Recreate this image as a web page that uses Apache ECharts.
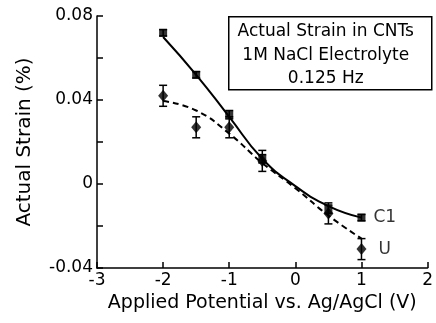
<!DOCTYPE html>
<html>
<head>
<meta charset="utf-8">
<script src="https://cdn.jsdelivr.net/npm/echarts@6/dist/echarts.min.js"></script>
<style>
  html, body { margin: 0; padding: 0; background: #fff; }
  #chart { width: 436px; height: 323px; }
</style>
</head>
<body>
<div id="chart"></div>
<script>
// potential (V)
var potentials = [-2, -1.5, -1, -0.5, 0.5, 1];
// C1 measured strain (%) and error
var c1Values = [0.072, 0.052, 0.033, 0.012, -0.012, -0.016];
var c1Errors = [0.0015, 0.0015, 0.002, 0.002, 0.002, 0.0015];
// U measured strain (%) and error
var uValues = [0.042, 0.027, 0.027, 0.011, -0.014, -0.031];
var uErrors = [0.005, 0.005, 0.005, 0.005, 0.005, 0.005];
// fitted curves as drawn
var fitX = [-2, -1.5, -1, -0.5, 0, 0.5, 1];
var c1Fit = [0.070, 0.052, 0.032, 0.012, -0.001, -0.0105, -0.016];
var uFit = [0.0395, 0.035, 0.024, 0.010, -0.002, -0.015, -0.026];
var yTicks = [0.08, 0.04, 0, -0.04];
var boxLines = ['Actual Strain in CNTs', '1M NaCl Electrolyte', '0.125 Hz'];

var chart = echarts.init(document.getElementById('chart'));
var fontFam = 'DejaVu Sans, sans-serif';

function pairs(xs, ys) {
    var out = [];
    for (var i = 0; i < xs.length; i++) out.push([xs[i], ys[i]]);
    return out;
}
function errData(xs, ys, es) {
    var out = [];
    for (var i = 0; i < xs.length; i++) out.push([xs[i], ys[i] - es[i], ys[i] + es[i]]);
    return out;
}
function errRender(params, api) {
    var x = api.value(0);
    var lo = api.coord([x, api.value(1)]);
    var hi = api.coord([x, api.value(2)]);
    var w = 4;
    var st = { stroke: '#000', lineWidth: 1.5 };
    return {
        type: 'group',
        children: [
            { type: 'line', shape: { x1: lo[0], y1: lo[1], x2: hi[0], y2: hi[1] }, style: st },
            { type: 'line', shape: { x1: lo[0] - w, y1: lo[1], x2: lo[0] + w, y2: lo[1] }, style: st },
            { type: 'line', shape: { x1: hi[0] - w, y1: hi[1], x2: hi[0] + w, y2: hi[1] }, style: st }
        ]
    };
}

var boxChildren = [
    { type: 'rect', shape: { x: 0, y: 0, width: 203, height: 73 },
      style: { fill: '#fff', stroke: '#000', lineWidth: 1.5 } }
];
boxLines.forEach(function (t, i) {
    boxChildren.push({ type: 'text', x: 97, y: 15 + i * 23.5,
        style: { text: t, fontFamily: fontFam, fontSize: 17, fill: '#000', align: 'center', verticalAlign: 'middle' } });
});

chart.setOption({
    animation: false,
    backgroundColor: '#fff',
    grid: { left: 97, right: 6, top: 16, bottom: 55 },
    xAxis: {
        type: 'value', min: -3, max: 2, interval: 1,
        name: 'Applied Potential vs. Ag/AgCl (V)',
        nameLocation: 'middle', nameGap: 23,
        nameTextStyle: { fontFamily: fontFam, fontSize: 19, color: '#000' },
        axisLine: { onZero: false, lineStyle: { color: '#000', width: 1.5 } },
        axisTick: { inside: true, length: 6, lineStyle: { color: '#000', width: 1.5 } },
        axisLabel: { fontFamily: fontFam, fontSize: 17, color: '#000', margin: 4 },
        splitLine: { show: false }
    },
    yAxis: {
        type: 'value', min: -0.04, max: 0.08, interval: 0.02,
        name: 'Actual Strain (%)',
        nameLocation: 'middle', nameGap: 62,
        nameTextStyle: { fontFamily: fontFam, fontSize: 20, color: '#000' },
        axisLine: { show: true, onZero: false, lineStyle: { color: '#000', width: 1.5 } },
        axisTick: { inside: true, length: 6, lineStyle: { color: '#000', width: 1.5 } },
        axisLabel: {
            fontFamily: fontFam, fontSize: 17, color: '#000', margin: 4,
            formatter: function (v) {
                for (var i = 0; i < yTicks.length; i++) {
                    if (Math.abs(v - yTicks[i]) < 1e-9) return String(yTicks[i]);
                }
                return '';
            }
        },
        splitLine: { show: false }
    },
    graphic: [{ type: 'group', left: 228, top: 16, children: boxChildren }],
    series: [
        {
            name: 'C1 fit', type: 'line', smooth: true, symbol: 'none',
            data: pairs(fitX, c1Fit),
            lineStyle: { color: '#000', width: 2 }
        },
        {
            name: 'U fit', type: 'line', smooth: true, symbol: 'none',
            data: pairs(fitX, uFit),
            lineStyle: { color: '#000', width: 2, type: [6, 4] }
        },
        {
            name: 'C1 err', type: 'custom', renderItem: errRender,
            data: errData(potentials, c1Values, c1Errors), z: 3
        },
        {
            name: 'U err', type: 'custom', renderItem: errRender,
            data: errData(potentials, uValues, uErrors), z: 3
        },
        {
            name: 'C1', type: 'scatter', symbol: 'rect', symbolSize: 8,
            data: pairs(potentials, c1Values),
            itemStyle: { color: '#000' }, z: 4,
            label: { show: true, position: 'right', distance: 8, fontFamily: fontFam, fontSize: 17, color: '#000',
                     formatter: function (p) { return p.dataIndex === potentials.length - 1 ? 'C1' : ''; } }
        },
        {
            name: 'U', type: 'scatter', symbol: 'diamond', symbolSize: [10, 12],
            data: pairs(potentials, uValues),
            itemStyle: { color: '#000' }, z: 4,
            label: { show: true, position: 'right', distance: 12, fontFamily: fontFam, fontSize: 17, color: '#000',
                     formatter: function (p) { return p.dataIndex === potentials.length - 1 ? 'U' : ''; } }
        }
    ]
});
</script>
</body>
</html>
